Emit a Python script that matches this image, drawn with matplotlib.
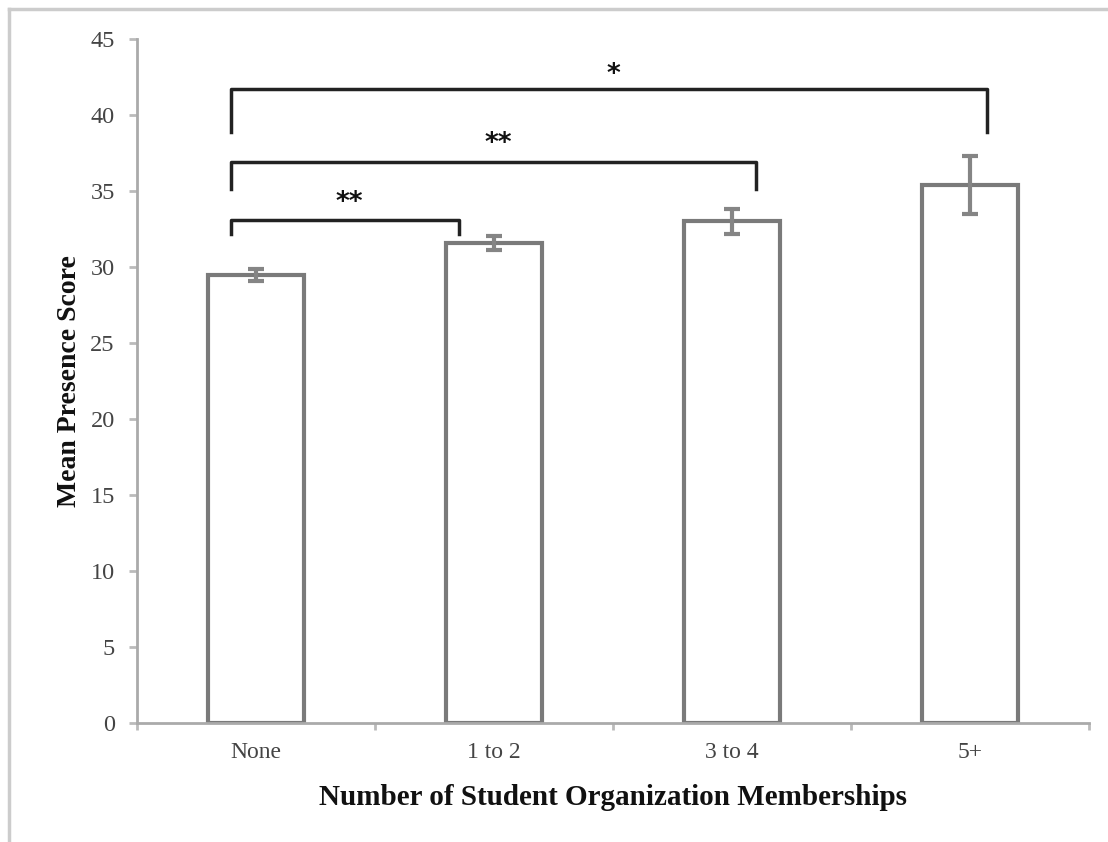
import matplotlib
matplotlib.use("Agg")
import matplotlib.pyplot as plt
from matplotlib.lines import Line2D
import numpy as np

categories = ["None", "1 to 2", "3 to 4", "5+"]
means = [29.5, 31.6, 33.0, 35.4]
errors = [0.4, 0.45, 0.8, 1.9]
# comparisons: (group a, group b, label)
comparisons = [(0, 1, "**"), (0, 2, "**"), (0, 3, "*")]
y_ticks = [0, 5, 10, 15, 20, 25, 30, 35, 40, 45]

plt.rcParams['font.family'] = ['Liberation Serif', 'DejaVu Serif']

fig = plt.figure(figsize=(11.08, 8.42), dpi=100)
ax = fig.add_axes([137/1108, 1-723/842, (1089-137)/1108, (723-39)/842])

x = np.arange(len(categories))
ax.bar(x, means, width=0.40, color='white', edgecolor='#7a7a7a', linewidth=3, zorder=2)
ax.errorbar(x, means, yerr=errors, fmt='none', ecolor='#858585', elinewidth=3,
            capsize=6, capthick=3, zorder=3)

ax.set_xlim(-0.5, len(categories) - 0.5)
ax.set_ylim(0, 45)
ax.set_yticks(y_ticks)
ax.set_xticks(x)
ax.set_xticklabels(categories)
ax.set_xticks(np.arange(len(categories) + 1) - 0.5, minor=True)
ax.tick_params(axis='x', which='major', length=0, pad=14, labelsize=17, labelcolor='#444444')
ax.tick_params(axis='x', which='minor', length=5, width=2, color='#bbbbbb')
ax.tick_params(axis='y', length=6, width=2, color='#bbbbbb', labelsize=17.5, labelcolor='#444444', pad=10)

for s in ['top', 'right']:
    ax.spines[s].set_visible(False)
for s in ['left', 'bottom']:
    ax.spines[s].set_color('#aaaaaa')
    ax.spines[s].set_linewidth(2)

ax.set_xlabel("Number of Student Organization Memberships", fontsize=21, fontweight='bold',
              color='#111111', labelpad=15)
ax.set_ylabel("Mean Presence Score", fontsize=20, fontweight='bold', color='#111111', labelpad=6)

# significance brackets
bracket_levels = [(33.1, 32.2), (36.9, 35.1), (41.7, 38.9)]
left_off = -0.105
right_offs = [-0.147, 0.10, 0.07]
star_y = [34.2, 38.1, 42.6]
for (a, b, lab), (top, bot), roff, sy in zip(comparisons, bracket_levels, right_offs, star_y):
    xl = a + left_off
    xr = b + roff
    ax.plot([xl, xl, xr, xr], [bot, top, top, bot], color='#222222', lw=2.5,
            solid_joinstyle='round', zorder=4)
    ax.text((xl + xr) / 2 + 0.02, sy, lab, ha='center', va='center', fontsize=19,
            fontweight='bold', family=['DejaVu Sans'], color='#111111')

# figure border (left and top)
fig.add_artist(Line2D([9/1108, 9/1108], [0, 1-9/842], transform=fig.transFigure, color='#cccccc', lw=2.5))
fig.add_artist(Line2D([9/1108, 1], [1-9/842, 1-9/842], transform=fig.transFigure, color='#cccccc', lw=2.5))

fig.savefig("out.png", dpi=100)
